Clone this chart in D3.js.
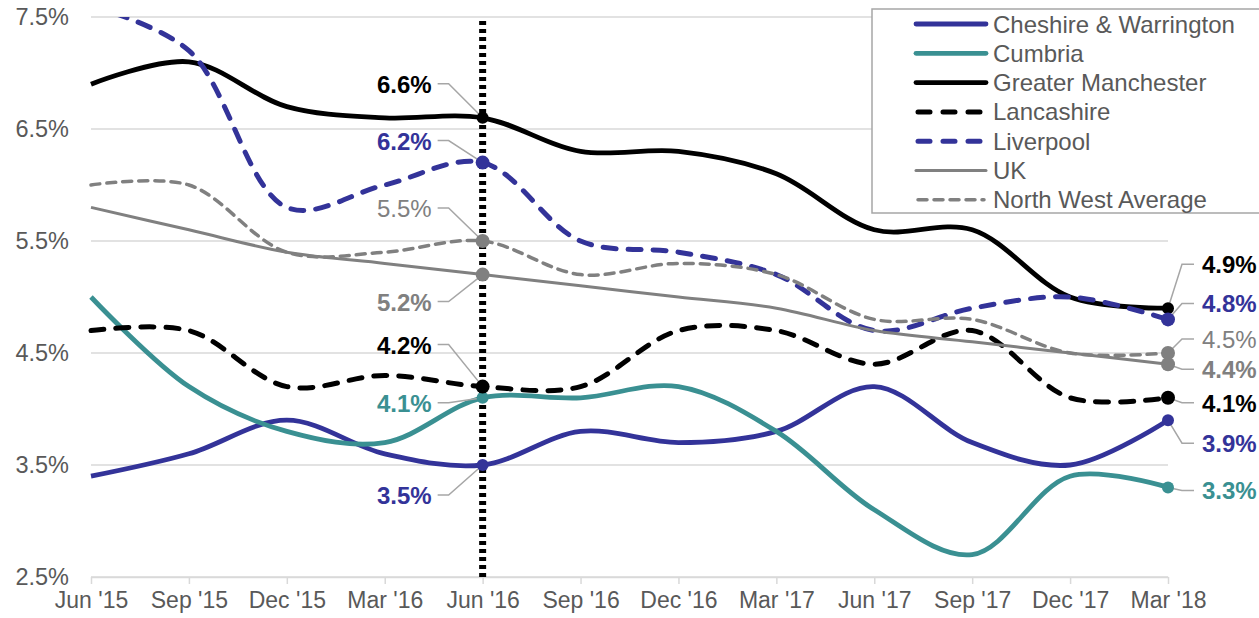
<!DOCTYPE html>
<html lang="en">
<head>
  <meta charset="UTF-8">
  <title>North West unemployment rates</title>
  <style>
    body {
      margin: 0;
      padding: 0;
      background: #fff;
      font-family: Arial, "Liberation Sans", sans-serif;
    }
    #chart {
      display: block;
    }
  </style>
</head>
<body>
  <svg id="chart" width="1259" height="618"></svg>

  <script src="https://d3js.org/d3.v7.min.js"></script>
  <script>
    // ---- data ----
    const quarters = ["Jun '15", "Sep '15", "Dec '15", "Mar '16", "Jun '16", "Sep '16",
                      "Dec '16", "Mar '17", "Jun '17", "Sep '17", "Dec '17", "Mar '18"];
    const yTicks = [2.5, 3.5, 4.5, 5.5, 6.5, 7.5];

    const cheshire          = [3.4, 3.6, 3.9, 3.6, 3.5, 3.8, 3.7, 3.8, 4.2, 3.7, 3.5, 3.9];
    const cumbria           = [5.0, 4.2, 3.8, 3.7, 4.1, 4.1, 4.2, 3.8, 3.1, 2.7, 3.4, 3.3];
    const greaterManchester = [6.9, 7.1, 6.7, 6.6, 6.6, 6.3, 6.3, 6.1, 5.6, 5.6, 5.0, 4.9];
    const lancashire        = [4.7, 4.7, 4.2, 4.3, 4.2, 4.2, 4.7, 4.7, 4.4, 4.7, 4.1, 4.1];
    const liverpool         = [7.6, 7.2, 5.8, 6.0, 6.2, 5.5, 5.4, 5.2, 4.7, 4.9, 5.0, 4.8];
    const uk                = [5.8, 5.6, 5.4, 5.3, 5.2, 5.1, 5.0, 4.9, 4.7, 4.6, 4.5, 4.4];
    const nwAverage         = [6.0, 6.0, 5.4, 5.4, 5.5, 5.2, 5.3, 5.2, 4.8, 4.8, 4.5, 4.5];

    const highlightQuarter = "Jun '16";
    const lastQuarter = "Mar '18";

    // series styling (order = legend order)
    const series = [
      { name: "Cheshire & Warrington", values: cheshire, color: "#333399", width: 4.8, dash: null, labelColor: "#333399", bold: true, r: 6, dy1: 30, dy2: 23 },
      { name: "Cumbria", values: cumbria, color: "#3a9092", width: 4.8, dash: null, labelColor: "#3a9092", bold: true, r: 6, dy1: 5, dy2: 3 },
      { name: "Greater Manchester", values: greaterManchester, color: "#000", width: 4.8, dash: null, labelColor: "#000", bold: true, r: 6, dy1: -34, dy2: -44 },
      { name: "Lancashire", values: lancashire, color: "#000", width: 5, dash: "13,12", labelColor: "#000", bold: true, r: 7, dy1: -42, dy2: 5 },
      { name: "Liverpool", values: liverpool, color: "#333399", width: 5, dash: "13,12", labelColor: "#333399", bold: true, r: 7, dy1: -22, dy2: -16 },
      { name: "UK", values: uk, color: "#808080", width: 3, dash: null, labelColor: "#808080", bold: true, r: 7, dy1: 27, dy2: 5 },
      { name: "North West Average", values: nwAverage, color: "#808080", width: 3.5, dash: "9,7", labelColor: "#808080", bold: false, r: 7, dy1: -33, dy2: -14 }
    ];

    // ---- layout ----
    const svg = d3.select("#chart");
    const plotLeft = 91, plotRight = 1168, plotTop = 17, plotBottom = 577;
    const fontSize = 23;

    const x = d3.scalePoint().domain(quarters).range([plotLeft, plotRight]);
    const y = d3.scaleLinear().domain([2.5, 7.5]).range([plotBottom, plotTop]);

    svg.append("defs").append("clipPath").attr("id", "plotClip")
      .append("rect")
      .attr("x", plotLeft - 10).attr("y", plotTop)
      .attr("width", plotRight - plotLeft + 20).attr("height", plotBottom - plotTop + 10);

    // gridlines
    svg.append("g")
      .selectAll("line")
      .data(yTicks)
      .enter()
      .append("line")
        .attr("x1", plotLeft).attr("x2", plotRight)
        .attr("y1", d => y(d)).attr("y2", d => y(d))
        .style("stroke", "#d9d9d9")
        .style("stroke-width", 1.5);

    // y labels
    svg.append("g")
      .selectAll("text")
      .data(yTicks)
      .enter()
      .append("text")
        .attr("x", 69)
        .attr("y", d => y(d))
        .attr("text-anchor", "end")
        .attr("dominant-baseline", "central")
        .style("font-size", "23.5px")
        .style("fill", "#595959")
        .text(d => d.toFixed(1) + "%");

    // x axis
    const xAxis = svg.append("g")
      .attr("transform", `translate(0,${plotBottom})`)
      .call(d3.axisBottom(x).tickSizeInner(7).tickSizeOuter(0).tickPadding(8));
    xAxis.select(".domain").style("stroke", "#d9d9d9").style("stroke-width", 1.5);
    xAxis.selectAll(".tick line").style("stroke", "#d9d9d9").style("stroke-width", 1.5);
    xAxis.selectAll(".tick text")
      .style("font-family", "Arial, 'Liberation Sans', sans-serif")
      .style("font-size", fontSize + "px")
      .style("fill", "#595959");

    // lines
    const line = d3.line()
      .x((d, i) => x(quarters[i]))
      .y(d => y(d))
      .curve(d3.curveCatmullRom.alpha(0.5));

    const lineG = svg.append("g").attr("clip-path", "url(#plotClip)");
    series.forEach(s => {
      lineG.append("path")
        .datum(s.values)
        .attr("d", line)
        .style("fill", "none")
        .style("stroke", s.color)
        .style("stroke-width", s.width)
        .style("stroke-dasharray", s.dash)
        .style("stroke-linecap", s.dash ? "round" : "butt");
    });

    // dotted marker line at Jun '16
    svg.append("line")
      .attr("x1", x(highlightQuarter)).attr("x2", x(highlightQuarter))
      .attr("y1", plotTop + 4).attr("y2", plotBottom)
      .style("stroke", "#000")
      .style("stroke-width", 7)
      .style("stroke-dasharray", "4,4");

    // labels + leaders + markers
    const labelG = svg.append("g");
    const hi = quarters.indexOf(highlightQuarter);
    const last = quarters.indexOf(lastQuarter);
    const labelSize = 24;

    series.forEach(s => {
      // Jun '16, label on the left
      const px = x(highlightQuarter), py = y(s.values[hi]);
      const ly = py + s.dy1;
      labelG.append("polyline")
        .attr("points", `${px},${py} ${px - 34},${ly} ${px - 45},${ly}`)
        .style("fill", "none").style("stroke", "#a6a6a6").style("stroke-width", 1.5);
      labelG.append("text")
        .attr("x", px - 51).attr("y", ly + 9)
        .attr("text-anchor", "end")
        .style("font-size", labelSize + "px")
        .style("font-weight", s.bold ? "bold" : "normal")
        .style("fill", s.labelColor)
        .text(s.values[hi].toFixed(1) + "%");

      // Mar '18, label on the right
      const qx = x(lastQuarter), qy = y(s.values[last]);
      const my = qy + s.dy2;
      labelG.append("polyline")
        .attr("points", `${qx},${qy} ${qx + 14},${my} ${qx + 26},${my}`)
        .style("fill", "none").style("stroke", "#a6a6a6").style("stroke-width", 1.5);
      labelG.append("text")
        .attr("x", qx + 34).attr("y", my + 9)
        .attr("text-anchor", "start")
        .style("font-size", labelSize + "px")
        .style("font-weight", s.bold ? "bold" : "normal")
        .style("fill", s.labelColor)
        .text(s.values[last].toFixed(1) + "%");
    });

    series.forEach(s => {
      [hi, last].forEach(i => {
        labelG.append("circle")
          .attr("cx", x(quarters[i]))
          .attr("cy", y(s.values[i]))
          .attr("r", s.r)
          .style("fill", s.color);
      });
    });

    // legend
    const legend = svg.append("g");
    legend.append("rect")
      .attr("x", 872).attr("y", 9)
      .attr("width", 400).attr("height", 204)
      .style("fill", "#fff")
      .style("stroke", "#a6a6a6")
      .style("stroke-width", 1.5);

    const rowH = 29.3;
    const rows = legend.selectAll("g.item")
      .data(series)
      .enter()
      .append("g")
        .attr("class", "item")
        .attr("transform", (d, i) => `translate(0,${24 + i * rowH})`);

    rows.append("line")
      .attr("x1", d => d.dash ? 918 : 916).attr("x2", d => d.dash ? 984 : 986)
      .attr("y1", 0).attr("y2", 0)
      .style("stroke", d => d.color)
      .style("stroke-width", d => d.width)
      .style("stroke-dasharray", d => d.dash ? (d.name === "North West Average" ? "9,7" : "12,13") : null)
      .style("stroke-linecap", "round");

    rows.append("text")
      .attr("x", 993)
      .attr("y", 0)
      .attr("dominant-baseline", "central")
      .style("font-size", "24px")
      .style("fill", "#595959")
      .text(d => d.name);
  </script>
</body>
</html>
